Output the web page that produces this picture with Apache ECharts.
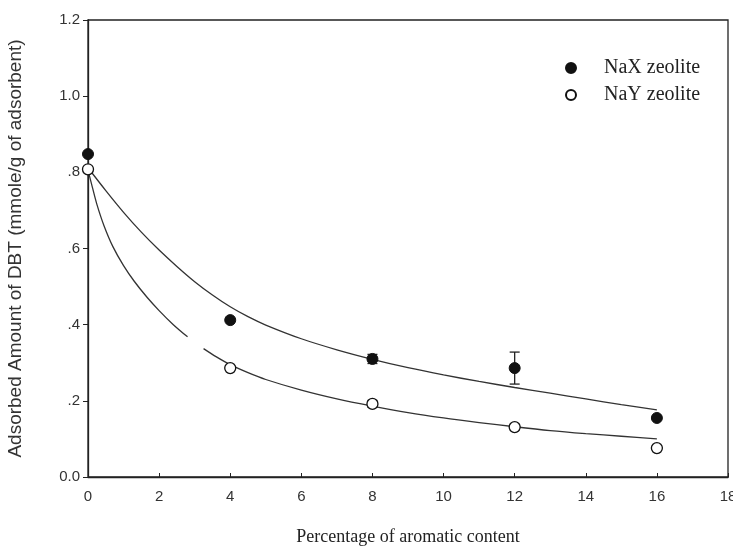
<!DOCTYPE html>
<html>
<head>
<meta charset="utf-8">
<script src="https://cdn.jsdelivr.net/npm/echarts@6/dist/echarts.min.js"></script>
<style>
  html, body { margin: 0; padding: 0; background: #fff; }
  #chart { width: 733px; height: 553px; }
</style>
</head>
<body>
<div id="chart"></div>
<script>
// Aromatic content (%) at which adsorption was measured
const aromaticPct = [0, 4, 8, 12, 16];

// Adsorbed DBT (mmole/g of adsorbent) with standard deviations
const naxAdsorbed = [0.848, 0.412, 0.310, 0.286, 0.155];
const naxError    = [0, 0, 0.012, 0.042, 0];
const nayAdsorbed = [0.808, 0.286, 0.192, 0.131, 0.076];
const nayError    = [0, 0, 0.009, 0.008, 0];

// Fitted decay curves (x, adsorbed amount)
const naxFitX = [0, 0.5, 1, 1.5, 2, 2.5, 3, 3.5, 4, 4.5, 5, 6, 7, 8, 9, 10, 11, 12, 13, 14, 15, 16];
const naxFitY = [0.812, 0.752, 0.695, 0.643, 0.596, 0.553, 0.513, 0.478, 0.447, 0.421, 0.399, 0.363, 0.334, 0.309, 0.287, 0.268, 0.251, 0.235, 0.220, 0.205, 0.190, 0.176];
const nayFitX = [0, 0.12, 0.25, 0.45, 0.7, 1, 1.3, 1.66, 2, 2.4, 2.8, null, 3.25, 3.6, 4, 4.5, 5, 6, 7, 8, 9, 10, 11, 12, 13, 14, 15, 16];
const nayFitY = [0.806, 0.762, 0.716, 0.660, 0.605, 0.555, 0.514, 0.472, 0.437, 0.400, 0.368, null, 0.337, 0.316, 0.295, 0.274, 0.256, 0.228, 0.205, 0.186, 0.169, 0.155, 0.143, 0.132, 0.122, 0.114, 0.107, 0.100];

// Y tick labels in the journal style (leading zero dropped)
const yTickLabels = { '0': '0.0', '0.2': '.2', '0.4': '.4', '0.6': '.6', '0.8': '.8', '1': '1.0', '1.2': '1.2' };

const pairs = (xs, ys) => xs.map((x, i) => (x === null ? [null, null] : [x, ys[i]]));
const errRows = (ys, es) => aromaticPct.map((x, i) => [x, ys[i], es[i]]).filter(r => r[2] > 0);

const ink = '#222';

function errorBar(params, api) {
  const x = api.value(0), y = api.value(1), e = api.value(2);
  const top = api.coord([x, y + e]);
  const bot = api.coord([x, y - e]);
  const cap = 5;
  const style = { stroke: ink, lineWidth: 1.3 };
  return {
    type: 'group',
    children: [
      { type: 'line', shape: { x1: top[0], y1: top[1], x2: bot[0], y2: bot[1] }, style },
      { type: 'line', shape: { x1: top[0] - cap, y1: top[1], x2: top[0] + cap, y2: top[1] }, style },
      { type: 'line', shape: { x1: bot[0] - cap, y1: bot[1], x2: bot[0] + cap, y2: bot[1] }, style }
    ]
  };
}

const chart = echarts.init(document.getElementById('chart'), null, { renderer: 'canvas' });
chart.setOption({
  animation: false,
  backgroundColor: '#fff',
  grid: {
    left: 88, right: 5, top: 20, bottom: 76,
    outerBoundsMode: 'none', containLabel: false,
    show: true, borderColor: ink, borderWidth: 1.3, backgroundColor: 'transparent'
  },
  legend: {
    orient: 'vertical',
    left: 565, top: 58, padding: 0,
    itemWidth: 10, itemHeight: 10, itemGap: 7,
    textStyle: {
      fontFamily: 'Liberation Serif', fontSize: 20, color: ink,
      lineHeight: 20, padding: [0, 0, 0, 23]
    },
    data: ['NaX zeolite', 'NaY zeolite']
  },
  xAxis: {
    type: 'value', min: 0, max: 18, interval: 2,
    name: 'Percentage of aromatic content',
    nameLocation: 'middle', nameGap: 51,
    nameTextStyle: { fontFamily: 'Liberation Serif', fontSize: 18, color: ink },
    axisLine: { lineStyle: { color: ink, width: 1.3 } },
    axisTick: { inside: true, length: 4, lineStyle: { color: ink } },
    axisLabel: { fontFamily: 'Liberation Sans', fontSize: 15, color: '#333', margin: 12 },
    splitLine: { show: false }
  },
  yAxis: {
    type: 'value', min: 0, max: 1.2, interval: 0.2,
    name: 'Adsorbed Amount of DBT (mmole/g of adsorbent)',
    nameLocation: 'middle', nameGap: 63, nameRotate: 90,
    nameTextStyle: { fontFamily: 'Liberation Sans', fontSize: 19, color: '#333' },
    axisLine: { lineStyle: { color: ink, width: 1.3 } },
    axisTick: { inside: false, length: 5, lineStyle: { color: ink } },
    axisLabel: {
      fontFamily: 'Liberation Sans', fontSize: 15, color: '#333', margin: 8,
      formatter: v => yTickLabels[String(Math.round(v * 10) / 10)] || ''
    },
    splitLine: { show: false }
  },
  series: [
    {
      name: 'NaX fit', type: 'line', data: pairs(naxFitX, naxFitY),
      smooth: 0.3, showSymbol: false, silent: true,
      lineStyle: { color: '#333', width: 1.3 }, z: 2
    },
    {
      name: 'NaY fit', type: 'line', data: pairs(nayFitX, nayFitY),
      smooth: 0.3, showSymbol: false, silent: true, connectNulls: false,
      lineStyle: { color: '#333', width: 1.3 }, z: 2
    },
    {
      name: 'NaX error', type: 'custom', renderItem: errorBar,
      data: errRows(naxAdsorbed, naxError), z: 3, silent: true
    },
    {
      name: 'NaY error', type: 'custom', renderItem: errorBar,
      data: errRows(nayAdsorbed, nayError), z: 3, silent: true
    },
    {
      name: 'NaX zeolite', type: 'scatter',
      data: aromaticPct.map((x, i) => [x, naxAdsorbed[i]]),
      symbol: 'circle', symbolSize: 11,
      itemStyle: { color: '#111', borderColor: '#111', borderWidth: 1, opacity: 1 }, z: 5
    },
    {
      name: 'NaY zeolite', type: 'scatter',
      data: aromaticPct.map((x, i) => [x, nayAdsorbed[i]]),
      symbol: 'circle', symbolSize: 11,
      itemStyle: { color: '#fff', borderColor: '#111', borderWidth: 1.3, opacity: 1 }, z: 5
    }
  ]
});
</script>
</body>
</html>
